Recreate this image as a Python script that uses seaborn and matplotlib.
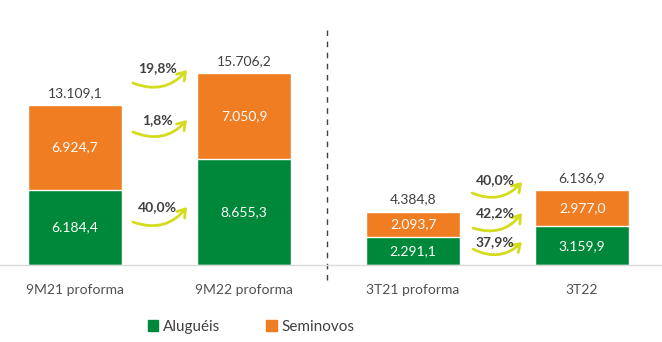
import matplotlib
matplotlib.use("Agg")
import matplotlib.pyplot as plt
import seaborn as sns
import pandas as pd
from matplotlib.patches import Patch
import matplotlib.transforms as mtransforms

categories = ["9M21 proforma", "9M22 proforma", "3T21 proforma", "3T22"]
alugueis = [6184.4, 8655.3, 2291.1, 3159.9]
seminovos = [6924.7, 7050.9, 2093.7, 2977.0]
pct_left = ["19,8%", "1,8%", "40,0%"]   # total, seminovos, alugueis (9M)
pct_right = ["40,0%", "42,2%", "37,9%"]  # total, seminovos, alugueis (3T)

GREEN = "#00883A"
ORANGE = "#F07D22"
ARROW = "#D4DC1E"
TXT = "#404040"

def br(v):
    s = f"{v:,.1f}"
    return s.replace(",", "X").replace(".", ",").replace("X", ".")

totals = [a + s for a, s in zip(alugueis, seminovos)]
df = pd.DataFrame({"cat": categories, "alug": alugueis, "semi": seminovos, "total": totals})

sns.set_theme(style="white")
plt.rcParams["font.family"] = ["Lato", "DejaVu Sans"]

fig = plt.figure(figsize=(6.62, 3.42), dpi=100)
ax = fig.add_axes([0, 0.225, 1, 0.775])

W = 0.556
sns.barplot(data=df, x="cat", y="total", color=ORANGE, width=W, saturation=1, ax=ax)
sns.barplot(data=df, x="cat", y="alug", color=GREEN, width=W, saturation=1, ax=ax)

ax.set_xlim(-0.444, 3.473)
ax.set_ylim(0, 21720)
ax.set_xlabel("")
ax.set_ylabel("")
ax.set_yticks([])
for sp in ["left", "right", "top"]:
    ax.spines[sp].set_visible(False)
ax.spines["bottom"].set_color("#D9D9D9")
ax.spines["bottom"].set_linewidth(1)
ax.set_xticks(range(4))
ax.set_xticklabels(categories, fontsize=10, color="#505050")
ax.tick_params(axis="x", length=0, pad=14)
ax.set_xticks([0.5, 2.5], minor=True)
ax.tick_params(axis="x", which="minor", length=8, color="#D9D9D9", width=1)

for i in range(4):
    ax.text(i, alugueis[i] / 2, br(alugueis[i]), ha="center", va="center",
            color="white", fontsize=10)
    ax.text(i, alugueis[i] + seminovos[i] / 2, br(seminovos[i]), ha="center",
            va="center", color="white", fontsize=10)
    ax.text(i, totals[i] + 500, br(totals[i]), ha="center", va="bottom",
            color=TXT, fontsize=10)

# dashed separator
trans = mtransforms.blended_transform_factory(ax.transData, ax.transAxes)
ax.plot([1.49, 1.49], [0.887, -0.068], transform=trans, color=TXT,
        lw=1, ls=(0, (4, 4)), clip_on=False)

# growth arrows: (label, text_x, text_y, tail_x, tail_y, tip_x, tip_y)
layout = [
    (pct_left[0], 0.485, 16146, 0.343, 14917, 0.663, 15982),
    (pct_left[1], 0.485, 11884, 0.343, 10901, 0.663, 11884),
    (pct_left[2], 0.485, 4754, 0.343, 3524, 0.663, 4754),
    (pct_right[0], 2.485, 6967, 2.35, 5901, 2.645, 6803),
    (pct_right[1], 2.485, 4262, 2.355, 3033, 2.645, 4262),
    (pct_right[2], 2.485, 1885, 2.355, 1311, 2.645, 1885),
]
for lab, tx, ty, ax0, ay0, ax1, ay1 in layout:
    ax.annotate("", xy=(ax1, ay1), xytext=(ax0, ay0),
                arrowprops=dict(arrowstyle="->,head_length=0.45,head_width=0.3",
                                color=ARROW, lw=2,
                                connectionstyle="arc3,rad=0.35",
                                shrinkA=0, shrinkB=0))
    ax.text(tx, ty, lab, ha="center", va="center", fontsize=10,
            fontweight="bold", color=TXT)

handles = [Patch(color=GREEN, label="Aluguéis"), Patch(color=ORANGE, label="Seminovos")]
fig.legend(handles=handles, loc="center", bbox_to_anchor=(0.379, 0.045), ncol=2,
           frameon=False, fontsize=11, handlelength=0.7, handleheight=0.7,
           columnspacing=3.0, handletextpad=0.3, labelcolor=TXT)

fig.savefig("out.png", dpi=100)
